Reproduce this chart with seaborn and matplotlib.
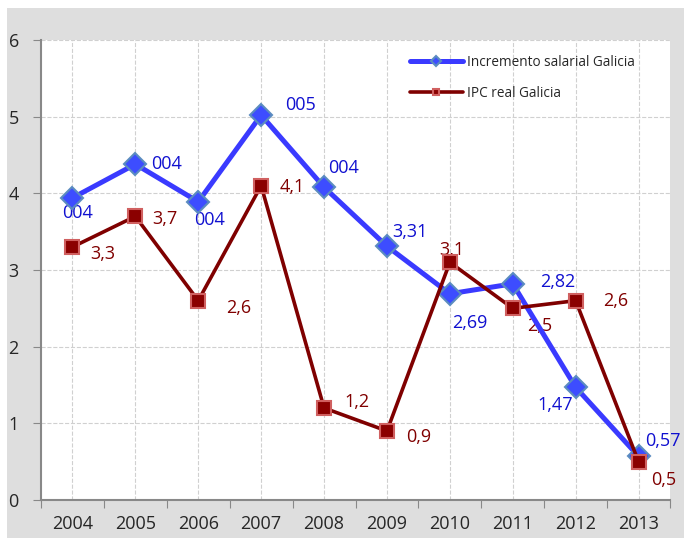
import pandas as pd
import seaborn as sns
import matplotlib.pyplot as plt
from matplotlib.patches import Rectangle

years = ['2004', '2005', '2006', '2007', '2008', '2009', '2010', '2011', '2012', '2013']
salarial = [3.94, 4.38, 3.89, 5.02, 4.08, 3.31, 2.69, 2.82, 1.47, 0.57]
ipc = [3.3, 3.7, 2.6, 4.1, 1.2, 0.9, 3.1, 2.5, 2.6, 0.5]
salarial_labels = ['004', '004', '004', '005', '004', '3,31', '2,69', '2,82', '1,47', '0,57']
ipc_labels = ['3,3', '3,7', '2,6', '4,1', '1,2', '0,9', '3,1', '2,5', '2,6', '0,5']

df = pd.DataFrame({'pos': range(len(years)), 'year': years,
                   'salarial': salarial, 'ipc': ipc})

sns.set_style('white')
plt.rcParams['font.family'] = ['Open Sans', 'DejaVu Sans']

fig = plt.figure(figsize=(6.84, 5.38), dpi=100)
fig.patch.set_facecolor('white')
fig.patches.append(Rectangle((7 / 684, 0), 1, 530 / 538, transform=fig.transFigure,
                             facecolor='#dedede', edgecolor='none', zorder=-5))
ax = fig.add_axes([41 / 684, 38 / 538, 629 / 684, 460 / 538])
ax.set_facecolor('white')

blue = '#3a3aff'
red = '#7f0000'
sns.lineplot(data=df, x='pos', y='salarial', ax=ax, color=blue, linewidth=3.6,
             marker='D', markersize=11, markerfacecolor='#3d4dff',
             markeredgecolor='#5b8cc0', markeredgewidth=1.5,
             label='Incremento salarial Galicia', zorder=3)
sns.lineplot(data=df, x='pos', y='ipc', ax=ax, color=red, linewidth=2.6,
             marker='s', markersize=10, markerfacecolor='#8b0000',
             markeredgecolor='#d06060', markeredgewidth=1.5,
             label='IPC real Galicia', zorder=4)

# label placement in points: (dx, dy, ha)
blue_off = [(4, -11, 'center'), (11, 0, 'left'), (8, -13, 'center'), (17, 7, 'left'),
            (3, 14, 'left'), (4, 10, 'left'), (1.5, -21, 'left'), (20, 1, 'left'),
            (-2, -13, 'right'), (5, 11, 'left')]
ipc_off = [(13, -5, 'left'), (12, -2, 'left'), (20, -5, 'left'), (13, -1, 'left'),
           (15, 4, 'left'), (14, -4.5, 'left'), (1.5, 9, 'center'), (10, -13, 'left'),
           (20, 0, 'left'), (9, -13, 'left')]
for i in range(len(years)):
    dx, dy, ha = blue_off[i]
    ax.annotate(salarial_labels[i], (i, salarial[i]), xytext=(dx, dy),
                textcoords='offset points', color='#1010d0', fontsize=13,
                ha=ha, va='center', zorder=2)
    dx, dy, ha = ipc_off[i]
    ax.annotate(ipc_labels[i], (i, ipc[i]), xytext=(dx, dy),
                textcoords='offset points', color='#800000', fontsize=13,
                ha=ha, va='center', zorder=2)

ax.set_xlim(-0.5, 9.5)
ax.set_ylim(0, 6)
ax.set_xticks([x - 0.5 for x in range(11)])
ax.set_xticklabels([])
ax.set_xticks(range(10), minor=True)
ax.set_xticklabels(years, minor=True, fontsize=13)
ax.tick_params(axis='x', which='minor', length=0, pad=11)
ax.tick_params(axis='x', which='major', length=6, color='#888888', direction='out', bottom=True)
ax.set_yticks(range(7))
ax.set_yticklabels([str(v) for v in range(7)], fontsize=13)
ax.tick_params(axis='y', length=6, color='#888888', direction='out', left=True, pad=10)
ax.grid(axis='y', which='major', color='#d0d0d0', linestyle='--', linewidth=0.8)
ax.grid(axis='x', which='minor', color='#d0d0d0', linestyle='--', linewidth=0.8)
ax.grid(axis='x', which='major', visible=False)
for s in ['top', 'right']:
    ax.spines[s].set_visible(False)
for s in ['left', 'bottom']:
    ax.spines[s].set_color('#888888')
    ax.spines[s].set_linewidth(1.5)
ax.set_xlabel('')
ax.set_ylabel('')

ax.legend(loc='upper left', bbox_to_anchor=(0.567, 0.995), frameon=False, fontsize=9.8,
          handlelength=3.9, handletextpad=0.3, labelspacing=1.2, markerscale=0.5)

fig.savefig('out.png', dpi=100)
